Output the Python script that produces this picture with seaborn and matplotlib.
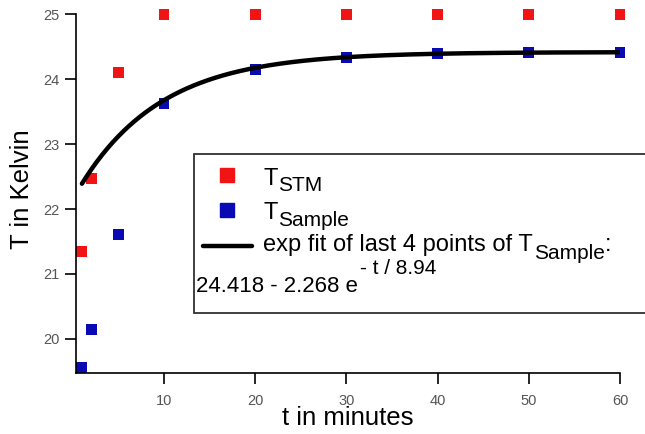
import numpy as np
import pandas as pd
import matplotlib
matplotlib.use("Agg")
import matplotlib.pyplot as plt
import seaborn as sns
from matplotlib.lines import Line2D
from matplotlib.patches import Rectangle

# ---------------- data ----------------
t_minutes = [1, 2, 5, 10, 20, 30, 40, 50, 60]
T_stm = [21.35, 22.47, 24.11, 25.0, 25.0, 25.0, 25.0, 25.0, 25.0]
T_sample = [19.56, 20.15, 21.61, 23.62, 24.15, 24.34, 24.40, 24.415, 24.415]

# exponential fit parameters shown in the legend
fit_offset = 24.418
fit_amplitude = 2.268
fit_tau = 8.94
fit_range = [1, 60]

x_ticks = [10, 20, 30, 40, 50, 60]
y_ticks = [20, 21, 22, 23, 24, 25]

series_names = ["T_STM", "T_Sample"]
colors = {"T_STM": "#f01414", "T_Sample": "#0a0ab4"}

df = pd.DataFrame({
    "t": t_minutes * 2,
    "T": T_stm + T_sample,
    "series": [series_names[0]] * len(t_minutes) + [series_names[1]] * len(t_minutes),
})
t_fit = np.linspace(fit_range[0], fit_range[1], 400)
T_fit = fit_offset - fit_amplitude * np.exp(-t_fit / fit_tau)

# ---------------- style ----------------
sns.set_style("ticks")
plt.rcParams["font.family"] = ["Liberation Sans", "DejaVu Sans"]

W, H = 645, 434
fig = plt.figure(figsize=(W / 100, H / 100), dpi=100)
ax_left, ax_right, ax_top, ax_bottom = 76, 620, 14.3, 373.3
ax = fig.add_axes([ax_left / W, 1 - ax_bottom / H,
                   (ax_right - ax_left) / W, (ax_bottom - ax_top) / H])

sns.scatterplot(data=df, x="t", y="T", hue="series", palette=colors,
                marker="s", s=62, linewidth=0, legend=False, ax=ax,
                clip_on=False, zorder=2)
sns.lineplot(x=t_fit, y=T_fit, color="black", linewidth=3.2, ax=ax,
             legend=False, zorder=3)

ax.set_xlim(0.35, 60)
ax.set_ylim(19.47, 25)
ax.set_xticks(x_ticks)
ax.set_yticks(y_ticks)
ax.set_xticklabels([str(v) for v in x_ticks])
ax.set_yticklabels([str(v) for v in y_ticks])
sns.despine(ax=ax)
for s in ["left", "bottom"]:
    ax.spines[s].set_color("black")
    ax.spines[s].set_linewidth(1.2)
ax.tick_params(direction="out", length=8, width=1.2, color="black",
               labelcolor="#555555", labelsize=10.5, pad=4)
ax.tick_params(axis="x", pad=7)

ax.set_xlabel("t in minutes", fontsize=18.5, color="black")
ax.set_ylabel("T in Kelvin", fontsize=18.5, color="black")
ax.xaxis.set_label_coords(0.5, (ax_bottom - 406) / (ax_bottom - ax_top))
ax.yaxis.set_label_coords((34 - ax_left) / (ax_right - ax_left), 0.512)

# ---------------- legend box (drawn by hand, runs past right edge) ----------------
renderer = fig.canvas.get_renderer()
fig.add_artist(Rectangle((194 / W, 1 - 313 / H), (680 - 194) / W, (313 - 154) / H,
                         transform=fig.transFigure, facecolor="white",
                         edgecolor="#303030", linewidth=1.3, zorder=5))


def px_text(x, y, s, size):
    t = fig.text(x / W, 1 - y / H, s, fontsize=size, va="baseline", ha="left",
                 color="black", zorder=6)
    return t.get_window_extent(renderer).x1


fig.add_artist(Line2D([227 / W], [1 - 175 / H], marker="s", markersize=10,
                      color=colors["T_STM"], linestyle="none",
                      transform=fig.transFigure, zorder=6))
fig.add_artist(Line2D([227 / W], [1 - 210 / H], marker="s", markersize=10,
                      color=colors["T_Sample"], linestyle="none",
                      transform=fig.transFigure, zorder=6))
fig.add_artist(Line2D([203 / W, 252 / W], [1 - 246 / H, 1 - 246 / H],
                      color="black", linewidth=3.2,
                      transform=fig.transFigure, zorder=6))

main_fs = 17
sub_fs = 15
x = px_text(263, 185, "T", main_fs)
px_text(x + 1, 191, "STM", sub_fs)
x = px_text(263, 219, "T", main_fs)
px_text(x + 1, 226, "Sample", sub_fs)
x = px_text(263, 251, "exp fit of last 4 points of T", main_fs)
x = px_text(x + 1, 259, "Sample", sub_fs)
px_text(x, 251, ":", main_fs)
x = px_text(196, 292, "24.418 - 2.268 e", 16)
px_text(x + 2, 274, "- t / 8.94", 15)

fig.savefig("out.png", dpi=100, facecolor="white")
